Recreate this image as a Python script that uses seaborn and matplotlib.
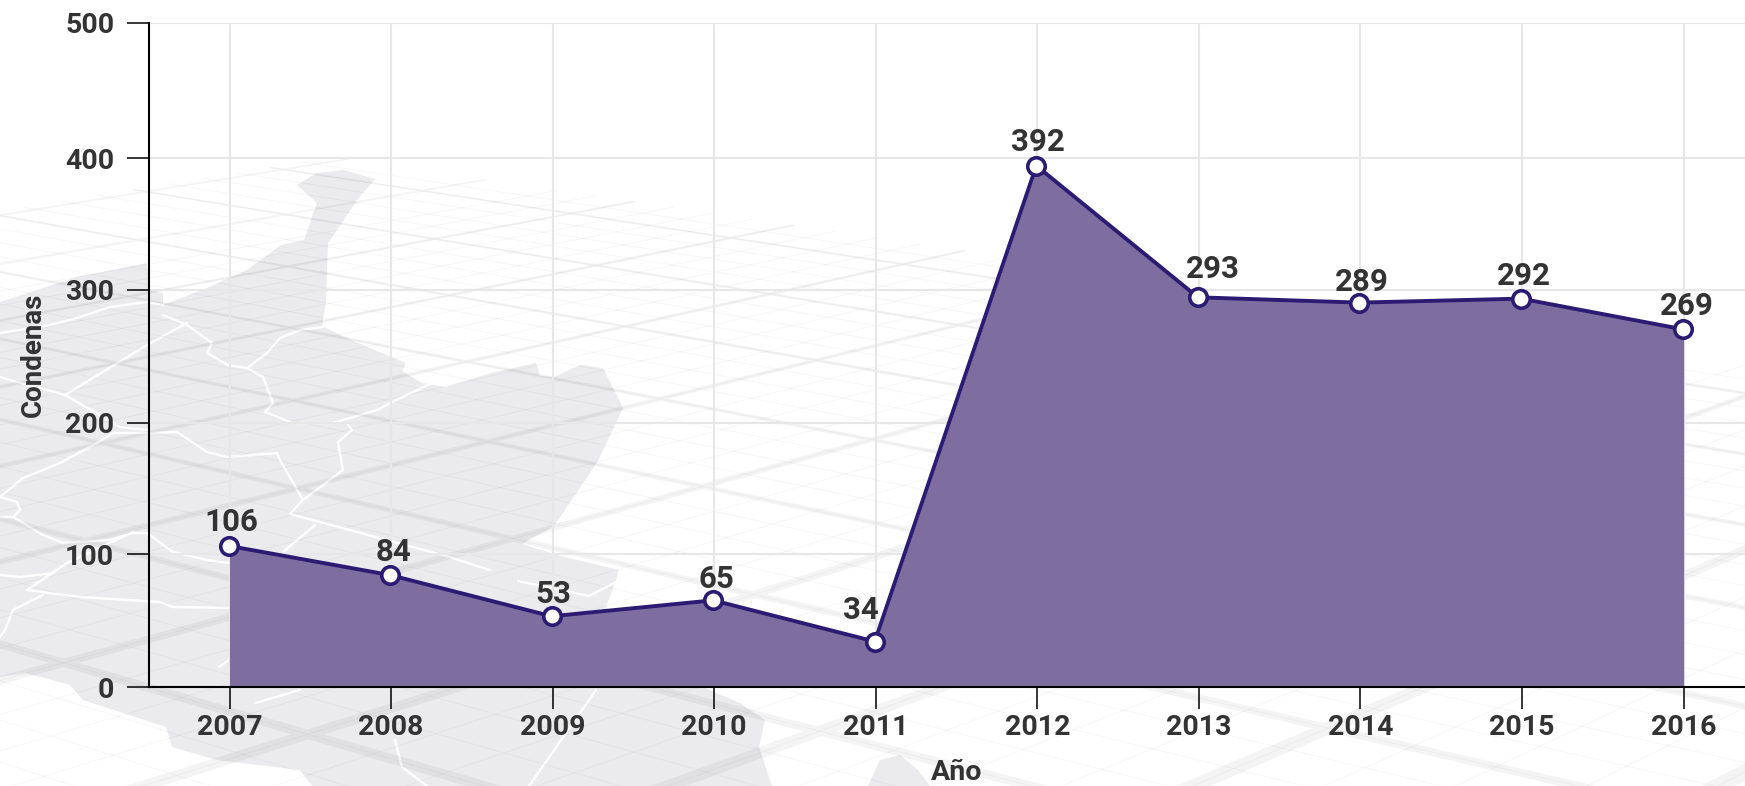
import numpy as np
import pandas as pd
import matplotlib
matplotlib.use("Agg")
import matplotlib.pyplot as plt
from matplotlib.collections import LineCollection
from matplotlib.patches import PathPatch, Polygon
from matplotlib.path import Path
from matplotlib.transforms import Affine2D
import seaborn as sns

# ---------- data ----------
years = [2007, 2008, 2009, 2010, 2011, 2012, 2013, 2014, 2015, 2016]
condenas = [106, 84, 53, 65, 34, 392, 293, 289, 292, 269]
y_tick_labels = ["0", "100", "200", "300", "400", "500"]
# the reference's y ticks sit slightly unevenly against its scale
y_tick_positions = [0, 100, 199, 299, 397.7, 500]

# label offsets in pixels from each point (dx, baseline above point)
label_dx = [2, 2, 1, 2, -15, 1, 14, 1, 2, 3]
label_dy = [15, 14, 14, 13, 23, 15, 20, 12, 14, 14]

# ---------- style ----------
W, H = 1745, 786
INK = "#333333"
LINE = "#2b1b72"
FILL = "#7e6ea0"
GRID = "#e7e7e7"
MAP = "#ebebed"
sns.set_theme(style="white")
plt.rcParams["font.family"] = ["Roboto", "DejaVu Sans"]
plt.rcParams["font.weight"] = "bold"

fig = plt.figure(figsize=(W / 100, H / 100), dpi=100, facecolor="white")

# ---------- decorative background map (figure pixels) ----------
bg = fig.add_axes([0, 0, 1, 1], zorder=0)
bg.set_xlim(0, W)
bg.set_ylim(H, 0)
bg.axis("off")

land = [(0, 302), (77, 277), (147, 263), (150, 290), (163, 293), (163, 305), (207, 288), (247, 270),
        (281, 245), (304, 240), (317, 203), (297, 185), (317, 173), (344, 170), (375, 179), (357, 200),
        (344, 220), (328, 243), (326, 301), (322, 326), (353, 341), (406, 363), (402, 371), (422, 383),
        (446, 387), (491, 373), (536, 363), (540, 376), (554, 377), (580, 365), (603, 368), (623, 408),
        (598, 461), (554, 526), (522, 544), (560, 556), (619, 570), (615, 583), (606, 607), (640, 660),
        (740, 703), (765, 720), (759, 747), (772, 786), (312, 786), (300, 770), (217, 760), (172, 747),
        (166, 727), (83, 700), (70, 685), (25, 673), (0, 677)]
island = [(868, 786), (880, 760), (900, 755), (918, 770), (930, 786)]
bg.add_patch(Polygon(land, closed=True, fc=MAP, ec="none", zorder=1))
bg.add_patch(Polygon(island, closed=True, fc=MAP, ec="none", zorder=1))

borders = [
    [(0, 333), (50, 325), (77, 318), (110, 307), (147, 302), (163, 305)],
    [(163, 315), (187, 325), (212, 343), (207, 353), (228, 365), (247, 368), (263, 377), (273, 403),
     (265, 412), (293, 423), (333, 423), (377, 410), (400, 398), (437, 381)],
    [(247, 368), (267, 353), (280, 338), (300, 330), (323, 327)],
    [(187, 323), (147, 345), (65, 395)],
    [(0, 377), (65, 395), (120, 427), (147, 430)],
    [(0, 497), (23, 478), (60, 463), (97, 443), (113, 433), (147, 433), (177, 432), (207, 452),
     (227, 457), (277, 453), (280, 460), (303, 500)],
    [(303, 500), (343, 470), (338, 442), (352, 430), (347, 423)],
    [(303, 500), (290, 514), (446, 556), (490, 570)],
    [(0, 497), (17, 502), (20, 510), (13, 517), (43, 535), (63, 543), (110, 540), (133, 533),
     (147, 533), (173, 552), (207, 560), (229, 563)],
    [(0, 517), (13, 517)],
    [(27, 590), (67, 563), (133, 532)],
    [(0, 575), (20, 577), (53, 573)],
    [(27, 590), (80, 597), (160, 602), (173, 607), (230, 608)],
    [(43, 595), (13, 610), (5, 630), (0, 637)],
    [(315, 525), (283, 552)],
    [(518, 581), (589, 596), (618, 581)],
    [(219, 667), (229, 660)],
    [(255, 703), (300, 690)],
    [(395, 740), (402, 767), (427, 786)],
    [(596, 690), (529, 786)],
]
bg.add_collection(LineCollection(borders, colors="white", linewidths=1.7, zorder=2, capstyle="round"))

# ---------- decorative perspective street grid ----------
VA, VB = (-3700.0, -440.0), (4055.0, -440.0)
EDGE_A, EDGE_B = 4584.0, -3584.0   # far limits of the plane, as x at the bottom edge
NEAR = 1000.0


def isect(p1, p2, p3, p4):
    d1, d2 = np.subtract(p2, p1), np.subtract(p4, p3)
    t = np.cross(np.subtract(p3, p1), d2) / np.cross(d1, d2)
    return np.add(p1, t * d1)


def ends(vp, vp_other, edge, a):
    base = (a, 786.0)
    far = isect(vp, base, vp_other, (edge, 786.0))
    near = isect(vp, base, (0.0, NEAR), (1.0, NEAR))
    return far, near


def wedge(vp, vp_other, edge, a, w_far, w_near):
    f1 = ends(vp, vp_other, edge, a - w_far)[0]
    f2 = ends(vp, vp_other, edge, a + w_far)[0]
    n1 = ends(vp, vp_other, edge, a - w_near)[1]
    n2 = ends(vp, vp_other, edge, a + w_near)[1]
    pts = np.array([f1, f2, n2, n1])
    x, y = pts[:, 0], pts[:, 1]
    if np.sum(x * np.roll(y, -1) - np.roll(x, -1) * y) < 0:
        pts = pts[::-1]
    return pts


major_a = 4313.0 + 547.0 * np.arange(-9, 1)
major_b = -1957.0 + 525.0 * np.arange(-3, 9)
minor_a = 4313.0 + 547.0 / 4 * np.arange(-36, 2)
minor_b = -1957.0 + 525.0 / 4 * np.arange(-6, 36)

thin = [ends(VA, VB, EDGE_B, a) for a in minor_a] + [ends(VB, VA, EDGE_A, b) for b in minor_b]
bg.add_collection(LineCollection([np.array(s) for s in thin], colors=(0, 0, 0, 0.03), linewidths=0.8, zorder=3))

polys = [wedge(VA, VB, EDGE_B, a, 10, 20) for a in major_a] + [wedge(VB, VA, EDGE_A, b, 10, 20) for b in major_b]
paths = [Path(np.vstack([p, p[0]]), closed=True) for p in polys]
bg.add_patch(PathPatch(Path.make_compound_path(*paths), fc=(0, 0, 0, 0.045), ec="none", zorder=4))

# ---------- chart ----------
left, right = 148.7, 1745.0
top, bottom = 22.5, 687.0
ax = fig.add_axes([left / W, (H - bottom) / H, (right - left) / W, (bottom - top) / H], zorder=1)
ax.patch.set_alpha(0)
px_year = (1683.6 - 229.5) / 9
ax.set_xlim(2007 - (229.5 - left) / px_year, 2007 + (right - 229.5) / px_year)
ax.set_ylim(0, 500)

df = pd.DataFrame({"Año": years, "Condenas": condenas})
ax.fill_between(df["Año"], 0, df["Condenas"], color=FILL, lw=0, zorder=3)
sns.lineplot(data=df, x="Año", y="Condenas", ax=ax, color=LINE, linewidth=2.8, marker="o",
             markersize=12.6, markerfacecolor="white", markeredgecolor=LINE, markeredgewidth=2.6,
             zorder=4, clip_on=False, errorbar=None)
# the reference's line sits about a pixel left of its ticks
ax.lines[-1].set_transform(ax.transData + Affine2D().translate(-1.0, 0.3))

ax.set_xticks(years)
ax.set_yticks(y_tick_positions)
ax.set_yticklabels(y_tick_labels)
ax.grid(True, color=GRID, linewidth=1.5, zorder=1)
ax.set_axisbelow(True)
for s in ("top", "right"):
    ax.spines[s].set_visible(False)
for s in ("left", "bottom"):
    ax.spines[s].set_color("black")
    ax.spines[s].set_linewidth(1.5)
    ax.spines[s].set_zorder(5)
ax.tick_params(axis="both", length=15.8, width=1.1, color="black", labelcolor=INK, labelsize=20.5, bottom=True, left=True)
ax.tick_params(axis="y", pad=9)
ax.tick_params(axis="x", pad=3.5)
for t in ax.get_xticklabels() + ax.get_yticklabels():
    t.set_fontweight("bold")

ax.set_xlabel("Año", fontsize=20.5, fontweight="bold", color=INK, va="center")
ax.xaxis.set_label_coords((957 - left) / (right - left), -(772 - bottom) / (bottom - top))
ax.set_ylabel("Condenas", fontsize=20, fontweight="bold", color=INK, va="center")
ax.yaxis.set_label_coords((33 - left) / (right - left), (bottom - 355) / (bottom - top))

for yr, v, dx, dy in zip(years, condenas, label_dx, label_dy):
    ax.annotate(str(v), (yr, v), xytext=(dx * 0.72, dy * 0.72), textcoords="offset points",
                ha="center", va="baseline", fontsize=22.5, fontweight="bold", color=INK, zorder=6,
                annotation_clip=False)

fig.savefig("out.png", dpi=100, facecolor="white")
